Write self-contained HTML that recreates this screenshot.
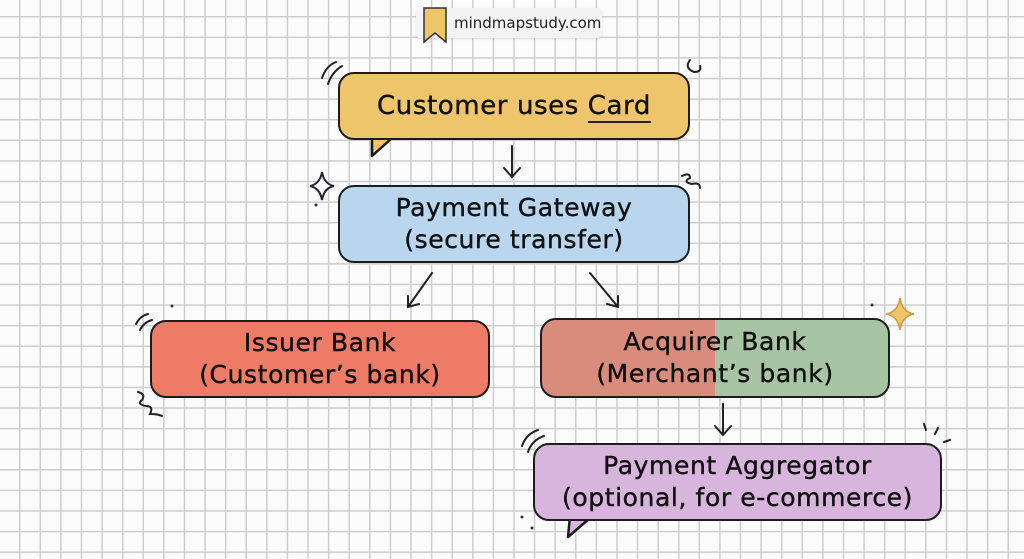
<!DOCTYPE html>
<html><head><meta charset="utf-8"><style>
html,body{margin:0;padding:0}
body{width:1024px;height:559px;overflow:hidden;position:relative;background-color:#fbfbfb;
background-image:linear-gradient(#cdcdcd 1.3px,transparent 1.3px),linear-gradient(90deg,#cdcdcd 1.3px,transparent 1.3px);
background-size:20.6px 20.6px;background-position:19px 16px;font-family:"DejaVu Sans","Liberation Sans",sans-serif}
.b{position:absolute;border:2.5px solid #1c1c1c;border-radius:16px;box-sizing:border-box;display:flex;flex-direction:column;align-items:center;justify-content:center;color:#111;font-size:25px;line-height:32px;letter-spacing:0.6px;text-align:center;-webkit-text-stroke:0.4px #111}
.tag{position:absolute;left:416px;top:8px;width:186px;height:30px;background:#f3f3f3;border-radius:4px;box-shadow:0 1px 2px rgba(0,0,0,.1);font-size:15px;line-height:30px;color:#222}
svg{position:absolute;left:0;top:0}
</style></head><body>
<div class="tag"><span style="position:absolute;left:38px">mindmapstudy.com</span></div>
<svg width="1024" height="559">
<path d="M424 8 h22 v34 l-11 -9 l-11 9z" fill="#eec56a" stroke="#333" stroke-width="1.5"/>
<path d="M372 136 L372 156 L392 138" fill="#eec56a" stroke="#1c1c1c" stroke-width="2.5" stroke-linejoin="round"/>
<path d="M570 516 L568 537 L590 518" fill="#d8b5dc" stroke="#1c1c1c" stroke-width="2.5" stroke-linejoin="round"/>
<g stroke="#222" stroke-width="2" fill="none" stroke-linecap="round">
<path d="M512 146 V177 M504 168 L512 177 L520 168"/>
<path d="M432 273 L408 307 M408 296 L408 307 L419 304"/>
<path d="M590 273 L618 307 M607 304 L618 307 L618 296"/>
<path d="M723 404 V435 M715 426 L723 435 L731 426"/>
<path d="M322 78 Q326 66 336 62 M328 84 Q332 72 342 66"/>
<path d="M690 60 Q684 68 694 72 Q702 72 700 66"/>
<path d="M682 176 q8 -4 8 2 q-8 4 2 6 q8 -2 8 4"/>
<path d="M322 172 Q324 184 334 186 Q324 188 322 200 Q320 188 310 186 Q320 184 322 172Z" stroke="#223" fill="#fff"/>
<path d="M136 324 q4 -8 12 -10 M140 330 q4 -8 12 -10"/>
<path d="M138 392 q8 2 4 8 q-6 4 4 6 q8 0 4 8 q8 0 12 2"/>
<path d="M522 446 Q526 434 538 430 M528 452 Q532 440 544 436"/>
<path d="M924 424 l2 6 M938 428 l-3 6 M950 440 l-6 2"/>
</g>
<path d="M900 298 Q902 312 914 314 Q902 316 900 330 Q898 316 886 314 Q898 312 900 298Z" fill="#f0c46a" stroke="#c99a3a" stroke-width="1.5"/>
<circle cx="872" cy="305" r="1.5" fill="#333"/><circle cx="172" cy="306" r="1.5" fill="#333"/>
<circle cx="316" cy="205" r="1.5" fill="#333"/><circle cx="522" cy="517" r="1.5" fill="#333"/><circle cx="532" cy="528" r="1.5" fill="#333"/>
</svg>
<div class="b" style="left:338px;top:72px;width:352px;height:68px;background:#eec56a;font-size:26px"><div>Customer uses <span style="border-bottom:2px solid #222">Card</span></div></div>
<div class="b" style="left:338px;top:185px;width:352px;height:78px;background:#b9d6ee"><div>Payment Gateway</div><div>(secure transfer)</div></div>
<div class="b" style="left:150px;top:320px;width:340px;height:78px;background:#ee7b66"><div>Issuer Bank</div><div>(Customer’s bank)</div></div>
<div class="b" style="left:540px;top:318px;width:350px;height:80px;background:linear-gradient(90deg,#d98b7c 50%,#a7c4a5 50%)"><div>Acquirer Bank</div><div>(Merchant’s bank)</div></div>
<div class="b" style="left:533px;top:443px;width:409px;height:78px;background:#d8b5dc"><div>Payment Aggregator</div><div>(optional, for e-commerce)</div></div>
</body></html>
